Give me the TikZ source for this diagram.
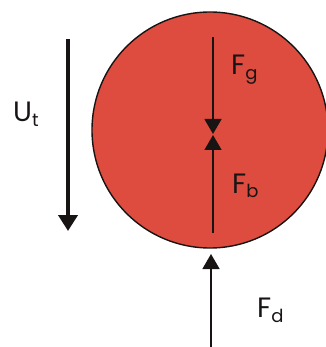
\documentclass[tikz,border=0pt]{standalone}
\usepackage{fontspec}
\setmainfont{Poppins}
\usetikzlibrary{arrows.meta}
\definecolor{ball}{RGB}{221,76,62}
\definecolor{ink}{RGB}{25,20,20}
\begin{document}
\begin{tikzpicture}[x=1pt,y=-1pt,
  lbl/.style={anchor=base west, inner sep=0pt, text=ink, font=\fontsize{28}{28}\selectfont},
  forcearrow/.style={draw=ink, line width=1.5pt, -{Triangle[length=15pt,width=17pt]}},
  velarrow/.style={draw=ink, line width=4pt, -{Triangle[length=16pt,width=19pt]}}]
\useasboundingbox (0,0) rectangle (325,347);
\node[circle, draw=ink, line width=1.4pt, fill=ball, minimum size=236pt, inner sep=0pt] (ball) at (210,130) {};
\coordinate (gtop) at (213,37);
\coordinate (gtip) at (213,134);
\coordinate (btip) at (213,135);
\coordinate (bbot) at (213,233);
\coordinate (dbot) at (211,348);
\coordinate (dtip) at (211,254);
\coordinate (utop) at (68,39);
\coordinate (utip) at (68,231);
\draw[forcearrow] (gtop) -- (gtip);
\draw[forcearrow] (bbot) -- (btip);
\draw[forcearrow] (dbot) -- (dtip);
\draw[velarrow] (utop) -- (utip);
\newcommand\subtxt[1]{\raisebox{-5pt}{\fontsize{18}{18}\selectfont #1}}
\node[lbl] (fg) at (231,75) {F\subtxt{g}};
\node[lbl] (fb) at (232,193) {F\subtxt{b}};
\node[lbl] (fd) at (257,317) {F\subtxt{d}};
\node[lbl] (ut) at (13,122) {U\subtxt{t}};
\end{tikzpicture}
\end{document}
